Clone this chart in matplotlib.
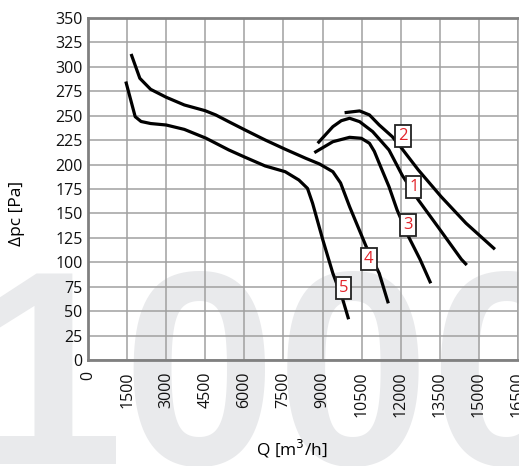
import matplotlib
matplotlib.use("Agg")
import matplotlib.pyplot as plt

plt.rcParams["font.family"] = ["Open Sans", "DejaVu Sans"]

# 各曲线数据 (Q [m3/h], Δpc [Pa])
q1 = [8814, 9396, 9719, 10038, 10423, 10924, 11550, 12049, 12675, 13425, 14325, 14534]
p1 = [221.8, 238.8, 244.9, 247.4, 243.9, 233.7, 214.9, 189.4, 163.8, 136.4, 103.1, 97.2]

q2 = [9846, 10423, 10800, 11175, 11674, 11989, 12675, 13549, 14504, 15615]
p2 = [253.1, 254.9, 250.8, 240.5, 228.6, 218.3, 194.5, 167.2, 140.0, 113.3]

q3 = [8684, 9396, 10038, 10488, 10800, 10987, 11175, 11550, 11861, 12300, 12739, 13151]
p3 = [212.2, 223.4, 227.9, 226.9, 221.8, 213.5, 201.3, 177.4, 153.5, 126.2, 103.1, 78.5]

q4 = [1654, 1989, 2179, 2404, 3000, 3696, 4488, 4901, 5400, 6027, 6796, 7567, 8357,
      8885, 9396, 9692, 10038, 10676, 11175, 11524]
p4 = [313.2, 288.3, 283.1, 277.0, 268.9, 261.0, 255.2, 250.8, 243.9, 235.4, 225.2, 215.7, 206.4,
      200.6, 192.7, 181.2, 156.9, 116.0, 88.7, 58.0]

q5 = [1451, 1811, 2036, 2404, 3000, 3696, 4526, 5400, 6027, 6796, 7567, 8092, 8421,
      8618, 9012, 9396, 9781, 10000]
p5 = [285.0, 249.0, 244.1, 242.0, 240.5, 236.0, 227.0, 215.0, 207.5, 198.6, 192.7, 184.2, 175.7,
      160.4, 122.8, 88.7, 61.4, 41.7]

curves = [(q1, p1), (q2, p2), (q3, p3), (q4, p4), (q5, p5)]

# 曲线编号标签位置
label_names = ["1", "2", "3", "4", "5"]
label_q = [12499, 12079, 12281, 10774, 9808]
label_p = [177.4, 229.5, 138.2, 103.2, 73.7]

x_ticks = list(range(0, 16501, 1500))
y_ticks = list(range(0, 351, 25))

fig = plt.figure(figsize=(5.19, 4.66), dpi=100)

# 背景水印
fig.text(-30 / 519, 2 / 466, "1000", fontsize=199, fontweight="bold",
         color="#e9eaec", va="baseline", ha="left", zorder=0,
         family="Liberation Sans")

ax = fig.add_axes([88 / 519, 106 / 466, 430 / 519, 342 / 466], zorder=1)
ax.patch.set_visible(False)

for q, p in curves:
    ax.plot(q, p, color="black", lw=2.3, solid_capstyle="butt",
            solid_joinstyle="round", zorder=3)

for name, lq, lp in zip(label_names, label_q, label_p):
    ax.text(lq, lp, name, color="#e3242b", fontsize=12, ha="center", va="center",
            zorder=4,
            bbox=dict(boxstyle="square,pad=0.18", fc="white", ec="#222222", lw=1.3))

ax.set_xlim(0, 16500)
ax.set_ylim(0, 350)
ax.set_xticks(x_ticks)
ax.set_yticks(y_ticks)
ax.set_xticklabels([str(v) for v in x_ticks], rotation=90)
ax.tick_params(length=0, labelsize=11.5, colors="#111111")
ax.tick_params(axis="x", pad=8)
ax.tick_params(axis="y", pad=4)
ax.grid(True, color="#a0a0a0", lw=1.1)
ax.set_axisbelow(True)
for side in ["left", "bottom", "top"]:
    ax.spines[side].set_color("#808080")
    ax.spines[side].set_linewidth(2)
ax.spines["right"].set_color("#a0a0a0")
ax.spines["right"].set_linewidth(1.1)

ax.set_xlabel("Q [m$^3$/h]", fontsize=12.5)
ax.set_ylabel("Δpc [Pa]", fontsize=12.5)
ax.xaxis.set_label_coords(0.474, -0.228)
ax.yaxis.set_label_coords(-0.146, 0.43)

fig.savefig("out.png", dpi=100)
